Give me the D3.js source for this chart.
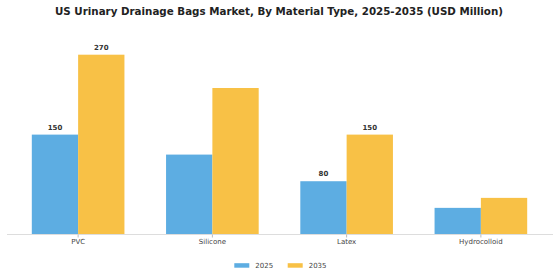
<!DOCTYPE html>
<html><head><meta charset="utf-8">
<script src="https://cdn.jsdelivr.net/npm/d3@7"></script>
<style>body{margin:0;background:#fff}svg{display:block}</style>
</head><body><svg id="c" width="560" height="280"></svg>
<script>
const categories = ["PVC", "Silicone", "Latex", "Hydrocolloid"];
const seriesNames = ["2025", "2035"];
const values2025 = [150, 120, 80, 40];
const values2035 = [270, 220, 150, 55];
const labels2025 = ["150", null, "80", null];
const labels2035 = ["270", null, "150", null];
const colors = ["#5DADE2", "#F8C146"];
const title = "US Urinary Drainage Bags Market, By Material Type, 2025-2035 (USD Million)";

const svg = d3.select("#c");
const font = "'DejaVu Sans', sans-serif";
const baseY = 234.5;
const x0 = d3.scaleBand().domain(categories).range([11, 548]).paddingInner(0.31).paddingOuter(0.155);
const x1 = d3.scaleBand().domain(seriesNames).range([0, x0.bandwidth()]);
const y = d3.scaleLinear().domain([0, 270]).range([baseY, baseY - 179.8]);

svg.append("text").attr("x", 279).attr("y", 15).attr("text-anchor", "middle")
  .attr("font-family", font).attr("font-weight", "bold").attr("font-size", 10.3)
  .attr("fill", "#222").text(title);

const data = categories.map((c, i) => ({c, vals: [values2025[i], values2035[i]], labs: [labels2025[i], labels2035[i]]}));
const g = svg.append("g");
const grp = g.selectAll("g").data(data).join("g").attr("transform", d => `translate(${x0(d.c)},0)`);
grp.selectAll("rect").data(d => d.vals.map((v, j) => ({v, j, lab: d.labs[j]}))).join("rect")
  .attr("x", d => x1(seriesNames[d.j])).attr("width", x1.bandwidth())
  .attr("y", d => y(d.v)).attr("height", d => y(0) - y(d.v)).attr("fill", d => colors[d.j]);
grp.selectAll("text").data(d => d.vals.map((v, j) => ({v, j, lab: d.labs[j]})).filter(d => d.lab)).join("text")
  .attr("x", d => x1(seriesNames[d.j]) + x1.bandwidth() / 2).attr("y", d => y(d.v) - 5)
  .attr("text-anchor", "middle").attr("font-family", font).attr("font-weight", "bold")
  .attr("font-size", 7).attr("fill", "#333").text(d => d.lab);

const axis = d3.axisBottom(x0).tickSize(3).tickSizeOuter(0);
const ax = svg.append("g").attr("transform", `translate(0,${baseY})`).call(axis);
ax.select(".domain").attr("d", "M7,0H553").attr("stroke", "#ddd");
ax.selectAll(".tick line").attr("stroke", "#bbb");
ax.selectAll(".tick text").attr("font-family", font).attr("font-size", 7).attr("fill", "#444")
  .attr("y", 7.5).attr("dy", "0.35em");

const leg = svg.append("g");
const lx = [234.3, 287.7];
seriesNames.forEach((s, i) => {
  leg.append("rect").attr("x", lx[i]).attr("y", 263.2).attr("width", 15).attr("height", 4.5).attr("fill", colors[i]);
  leg.append("text").attr("x", lx[i] + 21).attr("y", 265.3).attr("dy", "0.35em")
    .attr("font-family", font).attr("font-size", 7).attr("fill", "#444").text(s);
});
</script></body></html>
